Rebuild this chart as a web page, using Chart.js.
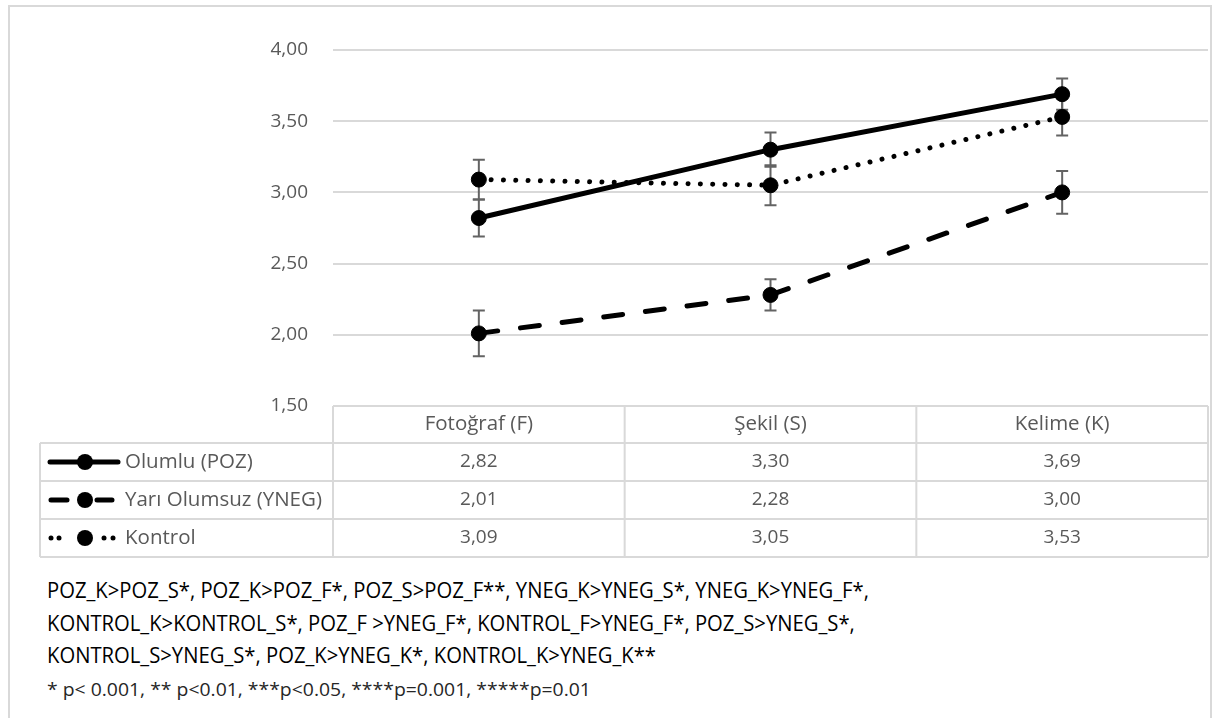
<!DOCTYPE html>
<html>
<head>
<meta charset="utf-8">
<script src="https://cdn.jsdelivr.net/npm/chart.js@4.4.1/dist/chart.umd.min.js"></script>
<style>
  html, body { margin: 0; padding: 0; background: #fff; }
  #frame { position: absolute; left: 8px; top: 5px; width: 1204px; height: 730px;
           border: 2px solid #d9d9d9; border-bottom: none; box-sizing: border-box; }
  #wrap { position: absolute; left: 0; top: 0; width: 1218px; height: 570px; }
  .note { position: absolute; left: 47px; font-family: 'Open Sans', sans-serif; color: #000;
          white-space: nowrap; transform-origin: 0 0; }
  .big { font-size: 22px; line-height: 22px; transform: scaleX(0.92); }
  .small { font-size: 19px; line-height: 19px; color: #262626; transform: scaleX(1.02); }
</style>
</head>
<body>
<div id="frame"></div>
<div id="wrap"><canvas id="chart" width="1218" height="570"></canvas></div>
<div class="note big" style="top:578px">POZ_K&gt;POZ_S*, POZ_K&gt;POZ_F*, POZ_S&gt;POZ_F**, YNEG_K&gt;YNEG_S*, YNEG_K&gt;YNEG_F*,</div>
<div class="note big" style="top:611px">KONTROL_K&gt;KONTROL_S*, POZ_F &gt;YNEG_F*, KONTROL_F&gt;YNEG_F*, POZ_S&gt;YNEG_S*,</div>
<div class="note big" style="top:643px">KONTROL_S&gt;YNEG_S*, POZ_K&gt;YNEG_K*, KONTROL_K&gt;YNEG_K**</div>
<div class="note small" style="top:680px">* p&lt; 0.001, ** p&lt;0.01, ***p&lt;0.05, ****p=0.001, *****p=0.01</div>
<script>
// Task categories and series means
const categories = ['Fotoğraf (F)', 'Şekil (S)', 'Kelime (K)'];
const seriesLabels = ['Olumlu (POZ)', 'Yarı Olumsuz (YNEG)', 'Kontrol'];
const pozMeans = [2.82, 3.30, 3.69];
const ynegMeans = [2.01, 2.28, 3.00];
const kontrolMeans = [3.09, 3.05, 3.53];
// Standard errors (whisker half-lengths)
const pozErr = [0.13, 0.12, 0.11];
const ynegErr = [0.16, 0.11, 0.15];
const kontrolErr = [0.14, 0.14, 0.13];
// Y axis tick values
const yTicks = [1.5, 2.0, 2.5, 3.0, 3.5, 4.0];

const fmt = v => v.toFixed(2).replace('.', ',');
const GRID = '#d9d9d9';
const TEXT = '#595959';
const FONT = "'Open Sans', sans-serif";

function lineDataset(label, data, errors, dash, keyStyle) {
  return {
    label, data, errors, keyStyle,
    borderColor: '#000', backgroundColor: '#000', borderWidth: 5,
    borderDash: dash, borderCapStyle: 'round', borderJoinStyle: 'round',
    pointRadius: 7.5, pointBackgroundColor: '#000', pointBorderColor: '#000', pointBorderWidth: 1,
    pointHoverRadius: 7.5, tension: 0, fill: false
  };
}

// Whiskers drawn under the lines and markers
const errorBars = {
  id: 'errorBars',
  beforeDatasetsDraw(chart) {
    const ctx = chart.ctx, y = chart.scales.y;
    ctx.save();
    ctx.strokeStyle = '#636363';
    ctx.lineWidth = 2;
    chart.data.datasets.forEach((ds, i) => {
      const meta = chart.getDatasetMeta(i);
      ds.data.forEach((v, j) => {
        const x = meta.data[j].x;
        const top = y.getPixelForValue(v + ds.errors[j]);
        const bot = y.getPixelForValue(v - ds.errors[j]);
        ctx.beginPath();
        ctx.moveTo(x, top); ctx.lineTo(x, bot);
        ctx.moveTo(x - 6, top); ctx.lineTo(x + 6, top);
        ctx.moveTo(x - 6, bot); ctx.lineTo(x + 6, bot);
        ctx.stroke();
      });
    });
    ctx.restore();
  }
};

// Data table beneath the plot with legend keys in the first column
const dataTable = {
  id: 'dataTable',
  afterDraw(chart) {
    const ctx = chart.ctx, area = chart.chartArea, xs = chart.scales.x;
    const n = categories.length;
    const colW = (area.right - area.left) / n;
    const headH = 37, rowH = 38, keyLeft = 40;
    const headTop = area.bottom, bodyTop = headTop + headH;
    const bodyBottom = bodyTop + rowH * chart.data.datasets.length;
    ctx.save();
    ctx.strokeStyle = GRID;
    ctx.lineWidth = 2;
    ctx.beginPath();
    ctx.moveTo(area.left, headTop); ctx.lineTo(area.right, headTop);
    for (let r = 0; r <= chart.data.datasets.length; r++) {
      const yy = bodyTop + r * rowH;
      ctx.moveTo(keyLeft, yy); ctx.lineTo(area.right, yy);
    }
    ctx.moveTo(keyLeft, bodyTop); ctx.lineTo(keyLeft, bodyBottom);
    for (let c = 0; c <= n; c++) {
      const xx = area.left + c * colW;
      ctx.moveTo(xx, headTop); ctx.lineTo(xx, bodyBottom);
    }
    ctx.stroke();

    ctx.fillStyle = TEXT;
    ctx.textBaseline = 'middle';
    ctx.textAlign = 'center';
    ctx.font = '20.5px ' + FONT;
    categories.forEach((c, i) => {
      ctx.fillText(c, xs.getPixelForValue(i), headTop + headH / 2);
    });
    chart.data.datasets.forEach((ds, r) => {
      const cy = bodyTop + r * rowH + rowH / 2;
      ctx.textAlign = 'center';
      ctx.font = '19px ' + FONT;
      ds.data.forEach((v, i) => ctx.fillText(fmt(v), xs.getPixelForValue(i), cy));
      ctx.textAlign = 'left';
      ctx.font = '20.5px ' + FONT;
      ctx.fillText(ds.label, 125, cy);
      drawKey(ctx, ds, 48, 120, cy);
    });
    ctx.restore();
  }
};

function drawKey(ctx, ds, x0, x1, cy) {
  const mid = 85;
  ctx.save();
  ctx.strokeStyle = '#000';
  ctx.fillStyle = '#000';
  ctx.lineWidth = 5;
  ctx.lineCap = 'round';
  if (ds.keyStyle === 'solid') {
    ctx.beginPath(); ctx.moveTo(x0 + 2, cy); ctx.lineTo(x1 - 2, cy); ctx.stroke();
  } else if (ds.keyStyle === 'dash') {
    ctx.beginPath();
    ctx.moveTo(x0 + 3, cy); ctx.lineTo(mid - 18, cy);
    ctx.moveTo(mid + 12, cy); ctx.lineTo(x1 - 8, cy);
    ctx.stroke();
  } else {
    [x0 + 3, x0 + 11, mid + 19, mid + 28].forEach(px => {
      ctx.beginPath(); ctx.arc(px, cy, 2.5, 0, Math.PI * 2); ctx.fill();
    });
  }
  ctx.beginPath(); ctx.arc(mid, cy, 8, 0, Math.PI * 2); ctx.fill();
  ctx.restore();
}

new Chart(document.getElementById('chart'), {
  type: 'line',
  data: {
    labels: categories,
    datasets: [
      lineDataset(seriesLabels[0], pozMeans, pozErr, [], 'solid'),
      lineDataset(seriesLabels[1], ynegMeans, ynegErr, [19, 23], 'dash'),
      lineDataset(seriesLabels[2], kontrolMeans, kontrolErr, [0.01, 12.3], 'dot')
    ]
  },
  options: {
    responsive: false,
    devicePixelRatio: 1,
    animation: false,
    events: [],
    layout: { padding: { top: 50, right: 10, bottom: 164, left: 0 } },
    plugins: { legend: { display: false }, tooltip: { enabled: false } },
    scales: {
      x: { type: 'category', display: false, offset: true },
      y: {
        min: yTicks[0], max: yTicks[yTicks.length - 1],
        afterBuildTicks: s => { s.ticks = yTicks.map(v => ({ value: v })); },
        afterFit: s => { s.width = 333; },
        grid: { color: GRID, lineWidth: 2, drawTicks: false },
        border: { display: false },
        ticks: { padding: 25, color: TEXT, font: { family: FONT, size: 19 }, callback: v => fmt(v) }
      }
    }
  },
  plugins: [errorBars, dataTable]
});
</script>
</body>
</html>
